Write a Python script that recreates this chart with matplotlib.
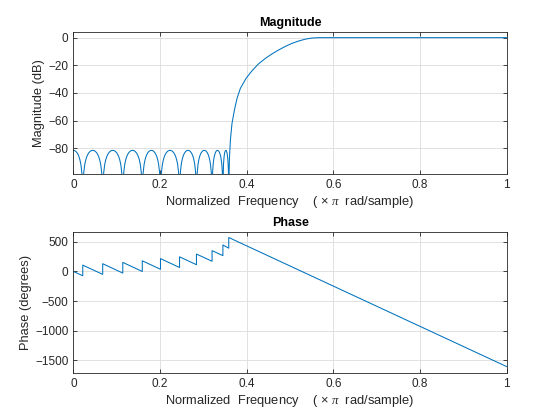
import numpy as np
import matplotlib
matplotlib.use("Agg")
import matplotlib.pyplot as plt

plt.rcParams['font.family'] = ['Liberation Sans', 'DejaVu Sans']
plt.rcParams['mathtext.fontset'] = 'custom'
plt.rcParams['mathtext.it'] = 'Liberation Serif:italic'

# stopband nulls (normalized freq)
null_freq = [0.0217, 0.0677, 0.114, 0.159, 0.201, 0.245, 0.284, 0.320, 0.345, 0.3585]
# shape of one stopband lobe: position within lobe, level (dB)
lobe_t = [0.0, 0.02, 0.05, 0.1, 0.15, 0.2, 0.25, 0.3, 0.35, 0.4, 0.45, 0.5,
          0.55, 0.6, 0.65, 0.7, 0.75, 0.8, 0.85, 0.9, 0.95, 0.98, 1.0]
lobe_db = [-110, -105.5, -97.5, -91.7, -88.4, -86.1, -84.5, -83.3, -82.5, -81.9,
           -81.6, -81.5, -81.6, -81.9, -82.5, -83.3, -84.5, -86.1, -88.4, -91.7,
           -97.5, -105.5, -110]
# transition band + passband
rise_freq = [0.360, 0.3623, 0.366, 0.3716, 0.3777, 0.3854, 0.3985, 0.412, 0.427,
             0.443, 0.458, 0.473, 0.488, 0.503, 0.519, 0.535, 0.550, 0.565, 0.581,
             0.7, 0.8, 0.9, 1.0]
rise_db = [-88, -74, -62, -52.3, -43.8, -36.6, -29.4, -24, -19,
           -15, -11.8, -9, -6.5, -4.3, -2.5, -1.1, -0.3, 0, 0,
           0, 0, 0, 0]

# phase: value just after each jump and just before the next null
phase_start = [0, 106, 130, 152, 179, 216, 246, 293, 351, 446, 572]
phase_end = [-74, -50, -28, -1, 36, 66, 113, 171, 266, 392]
phase_last = -1608

xlabel = 'Normalized  Frequency    ( × $\\pi$  rad/sample)'

# build magnitude curve
edges = [-null_freq[0]] + null_freq
mf, md = [], []
for a, b in zip(edges[:-1], edges[1:]):
    for t, d in zip(lobe_t, lobe_db):
        x = a + t * (b - a)
        if x >= 0:
            mf.append(x)
            md.append(d)
mf += rise_freq
md += rise_db

# build phase curve
pf, pv = [], []
starts = [0.0] + null_freq
ends = null_freq + [1.0]
for i in range(len(starts)):
    pf += [starts[i], ends[i]]
    pv += [phase_start[i], phase_end[i] if i < len(phase_end) else phase_last]

col = '#0072BD'
fig = plt.figure(figsize=(5.6, 4.2), dpi=100)
ax1 = fig.add_axes([0.131, 0.585, 0.774, 0.3395])
ax2 = fig.add_axes([0.131, 0.1112, 0.774, 0.3371])

ax1.plot(mf, md, color=col, lw=0.75)
ax1.set_xlim(0, 1)
ax1.set_ylim(-98.8, 4.3)
ax1.set_yticks([0, -20, -40, -60, -80])
ax1.set_title('Magnitude', fontsize=9, fontweight='bold', pad=4)
ax1.set_ylabel('Magnitude (dB)', fontsize=9.3, color='#262626', labelpad=2.5)

ax2.plot(pf, pv, color=col, lw=0.75)
ax2.set_xlim(0, 1)
ax2.set_ylim(-1720, 670)
ax2.set_yticks([500, 0, -500, -1000, -1500])
ax2.set_title('Phase', fontsize=9, fontweight='bold', pad=4)
ax2.set_ylabel('Phase (degrees)', fontsize=9.3, color='#262626', labelpad=2)

for ax in (ax1, ax2):
    ax.set_xticks([0, 0.2, 0.4, 0.6, 0.8, 1])
    ax.set_xticklabels(['0', '0.2', '0.4', '0.6', '0.8', '1'])
    ax.set_xlabel(xlabel, fontsize=9.3, color='#262626', labelpad=2)
    ax.grid(True, color='#dcdcdc', lw=0.6)
    ax.set_axisbelow(True)
    ax.tick_params(direction='in', length=3, width=0.6, top=True, right=True,
                   labelsize=8.5, colors='#262626', pad=3.5)
    for s in ax.spines.values():
        s.set_color('#262626')
        s.set_linewidth(0.6)

fig.savefig('out.png', dpi=100)
